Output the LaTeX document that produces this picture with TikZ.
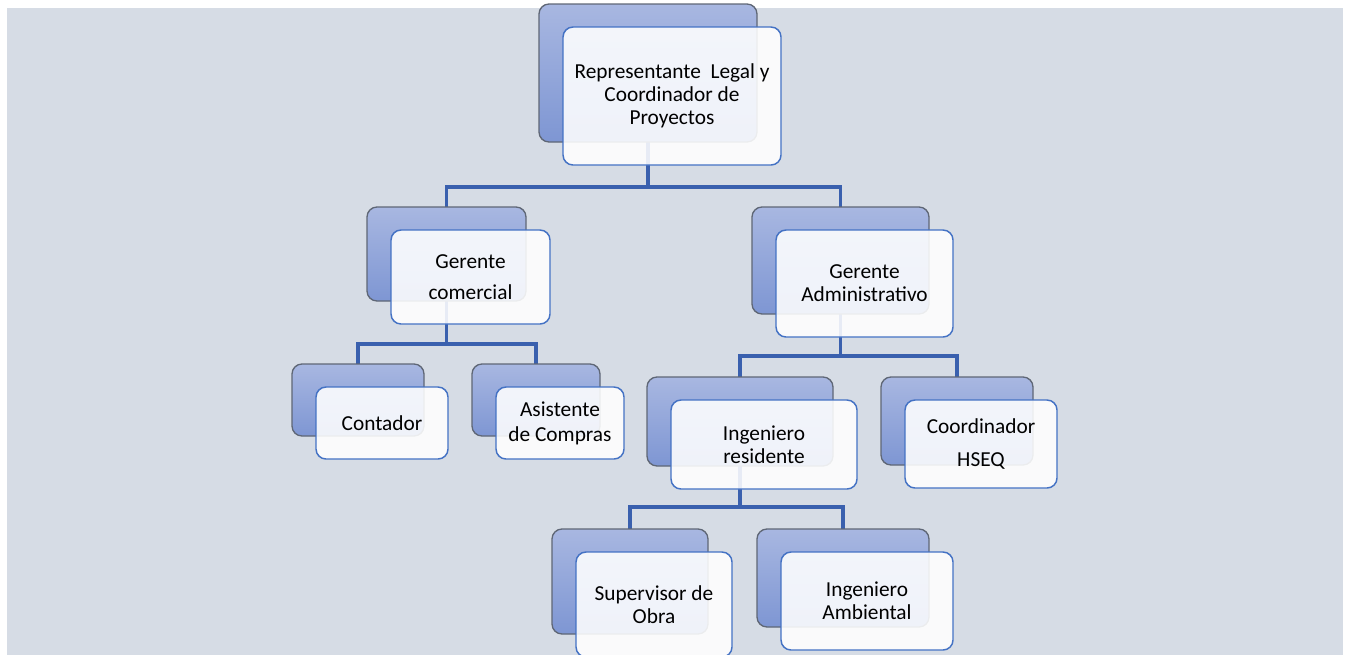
\documentclass[tikz,border=0pt]{standalone}
\usepackage{fontspec}
\setmainfont{Carlito}
\definecolor{bgc}{HTML}{D6DCE5}
\definecolor{backtop}{HTML}{A8B7E1}
\definecolor{backbot}{HTML}{7E96D3}
\definecolor{backline}{HTML}{5F6776}
\definecolor{frontline}{HTML}{4472C4}
\definecolor{connc}{HTML}{3A60AE}
\pgfdeclarelayer{bglayer}
\pgfdeclarelayer{linelayer}
\pgfsetlayers{bglayer,linelayer,main}
\tikzset{
  backbox/.style={draw=backline, line width=1pt, rounded corners=7.5pt,
    top color=backtop, bottom color=backbot, inner sep=0pt, outer sep=0pt},
  frontbox/.style={draw=frontline, line width=1.1pt, rounded corners=7.5pt,
    fill=white, fill opacity=0.88, text opacity=1, inner sep=0pt, outer sep=0pt,
    align=center, font=\fontsize{16}{17.25}\selectfont},
  conn/.style={draw=connc, line width=2.4pt}
}
\newcommand\orgbox[6]{%
  \node[backbox, minimum width={(#4-#2)*0.75pt}, minimum height={(#5-#3)*0.75pt}]
    (#1) at ({(#2+#4)/2},{(#3+#5)/2}) {};
  \node[frontbox, minimum width={(#4-#2)*0.75pt}, minimum height={(#5-#3)*0.75pt}]
    (#1f) at ({(#2+#4)/2+24},{(#3+#5)/2+23}) {#6};
}
\begin{document}
\begin{tikzpicture}[x=0.75pt,y=-0.75pt]
\useasboundingbox (0,0) rectangle (1347,654);
\clip (0,0) rectangle (1347,654);
\begin{pgfonlayer}{bglayer}
\fill[bgc] (7,8) rectangle (1343,660);
\end{pgfonlayer}
% boxes
\orgbox{top}{539}{4}{757}{142}{Representante\ \ Legal y\\Coordinador de\\Proyectos}
\orgbox{gc}{367}{207}{526}{301}{Gerente\\[6pt]comercial}
\orgbox{ga}{752}{207}{929}{314}{Gerente\\Administrativo}
\orgbox{con}{292}{364}{424}{436}{Contador}
\orgbox{asi}{472}{364}{600}{436}{Asistente\\[1.5pt]de Compras}
\orgbox{ir}{647}{377}{833}{466}{Ingeniero\\residente}
\orgbox{hs}{881}{377}{1033}{465}{Coordinador\\[7.5pt]HSEQ}
\orgbox{so}{552}{529}{708}{634}{Supervisor de\\Obra}
\orgbox{ia}{757}{529}{929}{627}{Ingeniero\\Ambiental}
% connectors
\begin{pgfonlayer}{linelayer}
\draw[conn] (top.south) -- (top.south |- 0,187);
\draw[conn] (gc.north) -- ++(0,-20) -| (ga.north);
\draw[conn] (gc.south) -- (gc.south |- 0,344);
\draw[conn] (con.north) -- ++(0,-20) -| (asi.north);
\draw[conn] (ga.south) -- (ga.south |- 0,356);
\draw[conn] (ir.north) -- ++(0,-21) -| (hs.north);
\draw[conn] (ir.south) -- (ir.south |- 0,507);
\draw[conn] (so.north) -- ++(0,-22) -| (ia.north);
\end{pgfonlayer}
\end{tikzpicture}
\end{document}
